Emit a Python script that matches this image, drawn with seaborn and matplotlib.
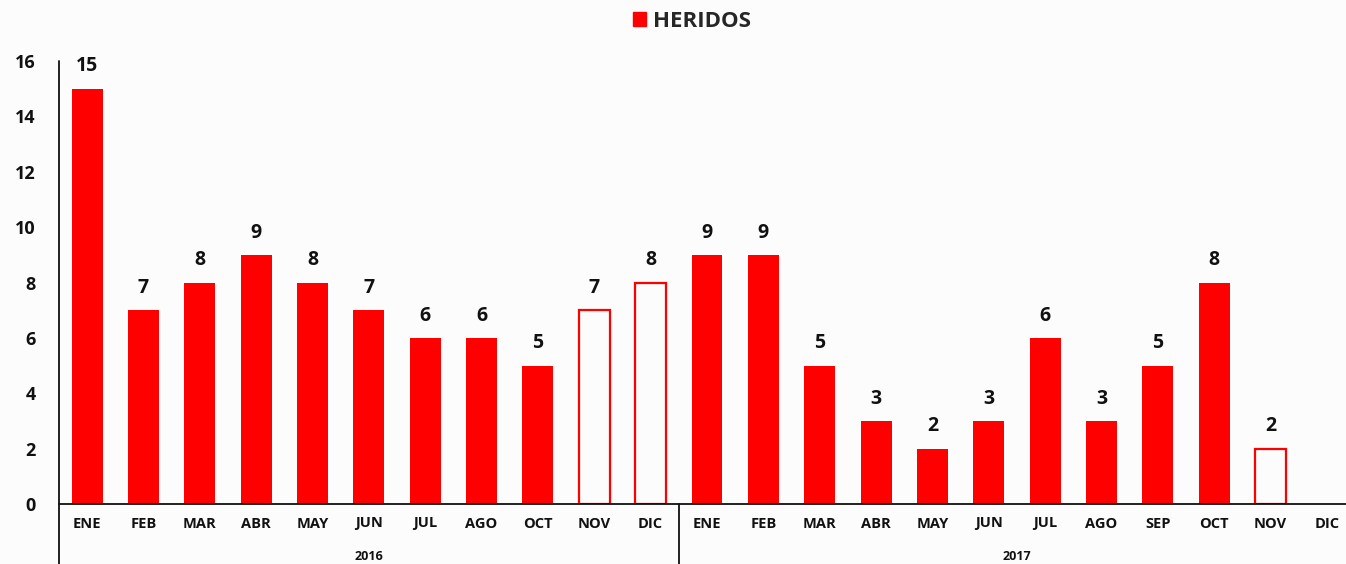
import matplotlib
matplotlib.use("Agg")
import matplotlib.pyplot as plt
import matplotlib.transforms as mtransforms
from matplotlib.patches import Patch
import numpy as np
import pandas as pd
import seaborn as sns

# Monthly injured counts ("HERIDOS")
months_2016 = ["ENE", "FEB", "MAR", "ABR", "MAY", "JUN", "JUL", "AGO", "OCT", "NOV", "DIC"]
values_2016 = [15, 7, 8, 9, 8, 7, 6, 6, 5, 7, 8]
provisional_2016 = [False] * 9 + [True, True]

months_2017 = ["ENE", "FEB", "MAR", "ABR", "MAY", "JUN", "JUL", "AGO", "SEP", "OCT", "NOV", "DIC"]
values_2017 = [9, 9, 5, 3, 2, 3, 6, 3, 5, 8, 2, np.nan]
provisional_2017 = [False] * 10 + [True, False]

years = ["2016", "2017"]
series_name = "HERIDOS"
y_ticks = [0, 2, 4, 6, 8, 10, 12, 14, 16]

RED = "#ff0000"
BG = "#fcfcfc"
INK = "#111111"
FONT = ["Open Sans", "DejaVu Sans"]

sns.set_theme(style="white")
plt.rcParams["font.family"] = FONT
plt.rcParams["font.weight"] = "bold"

df = pd.DataFrame({
    "year": ["2016"] * len(months_2016) + ["2017"] * len(months_2017),
    "month": months_2016 + months_2017,
    "value": values_2016 + values_2017,
    "provisional": provisional_2016 + provisional_2017,
})
df["key"] = df["year"] + "-" + df["month"]
order = list(df["key"])

fig = plt.figure(figsize=(13.46, 5.64), dpi=100, facecolor=BG)
ax = fig.add_axes([59 / 1346, 60 / 564, 1296 / 1346, 443 / 564])
ax.set_facecolor(BG)

sns.barplot(data=df, x="key", y="value", order=order, color=RED,
            width=0.55, saturation=1, errorbar=None, ax=ax)

# Provisional months are drawn as outlined bars
for p in ax.patches:
    idx = int(round(p.get_x() + p.get_width() / 2))
    p.set_edgecolor(RED)
    p.set_linewidth(0)
    if idx < len(df) and df["provisional"].iloc[idx]:
        p.set_facecolor(BG)
        p.set_linewidth(1.6)

# Value labels
for i, v in enumerate(df["value"]):
    if np.isnan(v):
        continue
    ax.annotate(f"{int(v)}", (i, v), xytext=(0, 16), textcoords="offset points",
                ha="center", va="center", fontsize=14, fontweight="bold",
                color=INK)

ax.set_ylim(0, 16)
ax.set_xlim(-0.5, len(df) - 0.5)
ax.set_yticks(y_ticks)
ax.set_yticklabels([str(t) for t in y_ticks], fontsize=13, fontweight="bold", color=INK)
ax.set_xticks(range(len(df)))
ax.set_xticklabels(df["month"], fontsize=10.5, fontweight="bold", color=INK)
ax.tick_params(axis="x", length=0, pad=9)
ax.tick_params(axis="y", length=0, pad=17)
ax.set_xlabel("")
ax.set_ylabel("")

for s in ["top", "right", "left"]:
    ax.spines[s].set_visible(False)
ax.spines["bottom"].set_color(INK)
ax.spines["bottom"].set_linewidth(1.3)

# Vertical axis line running down through the category band
ax.plot([0, 0], [-0.14, 1.0], transform=ax.transAxes, color=INK,
        lw=1.3, clip_on=False)
# Year separator
trans = mtransforms.blended_transform_factory(ax.transData, ax.transAxes)
ax.plot([len(months_2016) - 0.5] * 2, [0, -0.14], transform=trans,
        color=INK, lw=1.3, clip_on=False)

# Year labels
centers = [(len(months_2016) - 1) / 2,
           len(months_2016) + (len(months_2017) - 1) / 2]
for yr, c in zip(years, centers):
    ax.text(c, -0.118, yr, transform=trans, ha="center", va="center",
            fontsize=9, fontweight="bold", color=INK)

handle = Patch(facecolor=RED, edgecolor=RED, label=series_name)
fig.legend(handles=[handle], loc="center", bbox_to_anchor=(0.514, 0.962),
           frameon=False, handlelength=0.6, handleheight=0.6,
           handletextpad=0.3, prop={"weight": "bold", "size": 16, "family": FONT})

fig.savefig("out.png", dpi=100, facecolor=BG)
